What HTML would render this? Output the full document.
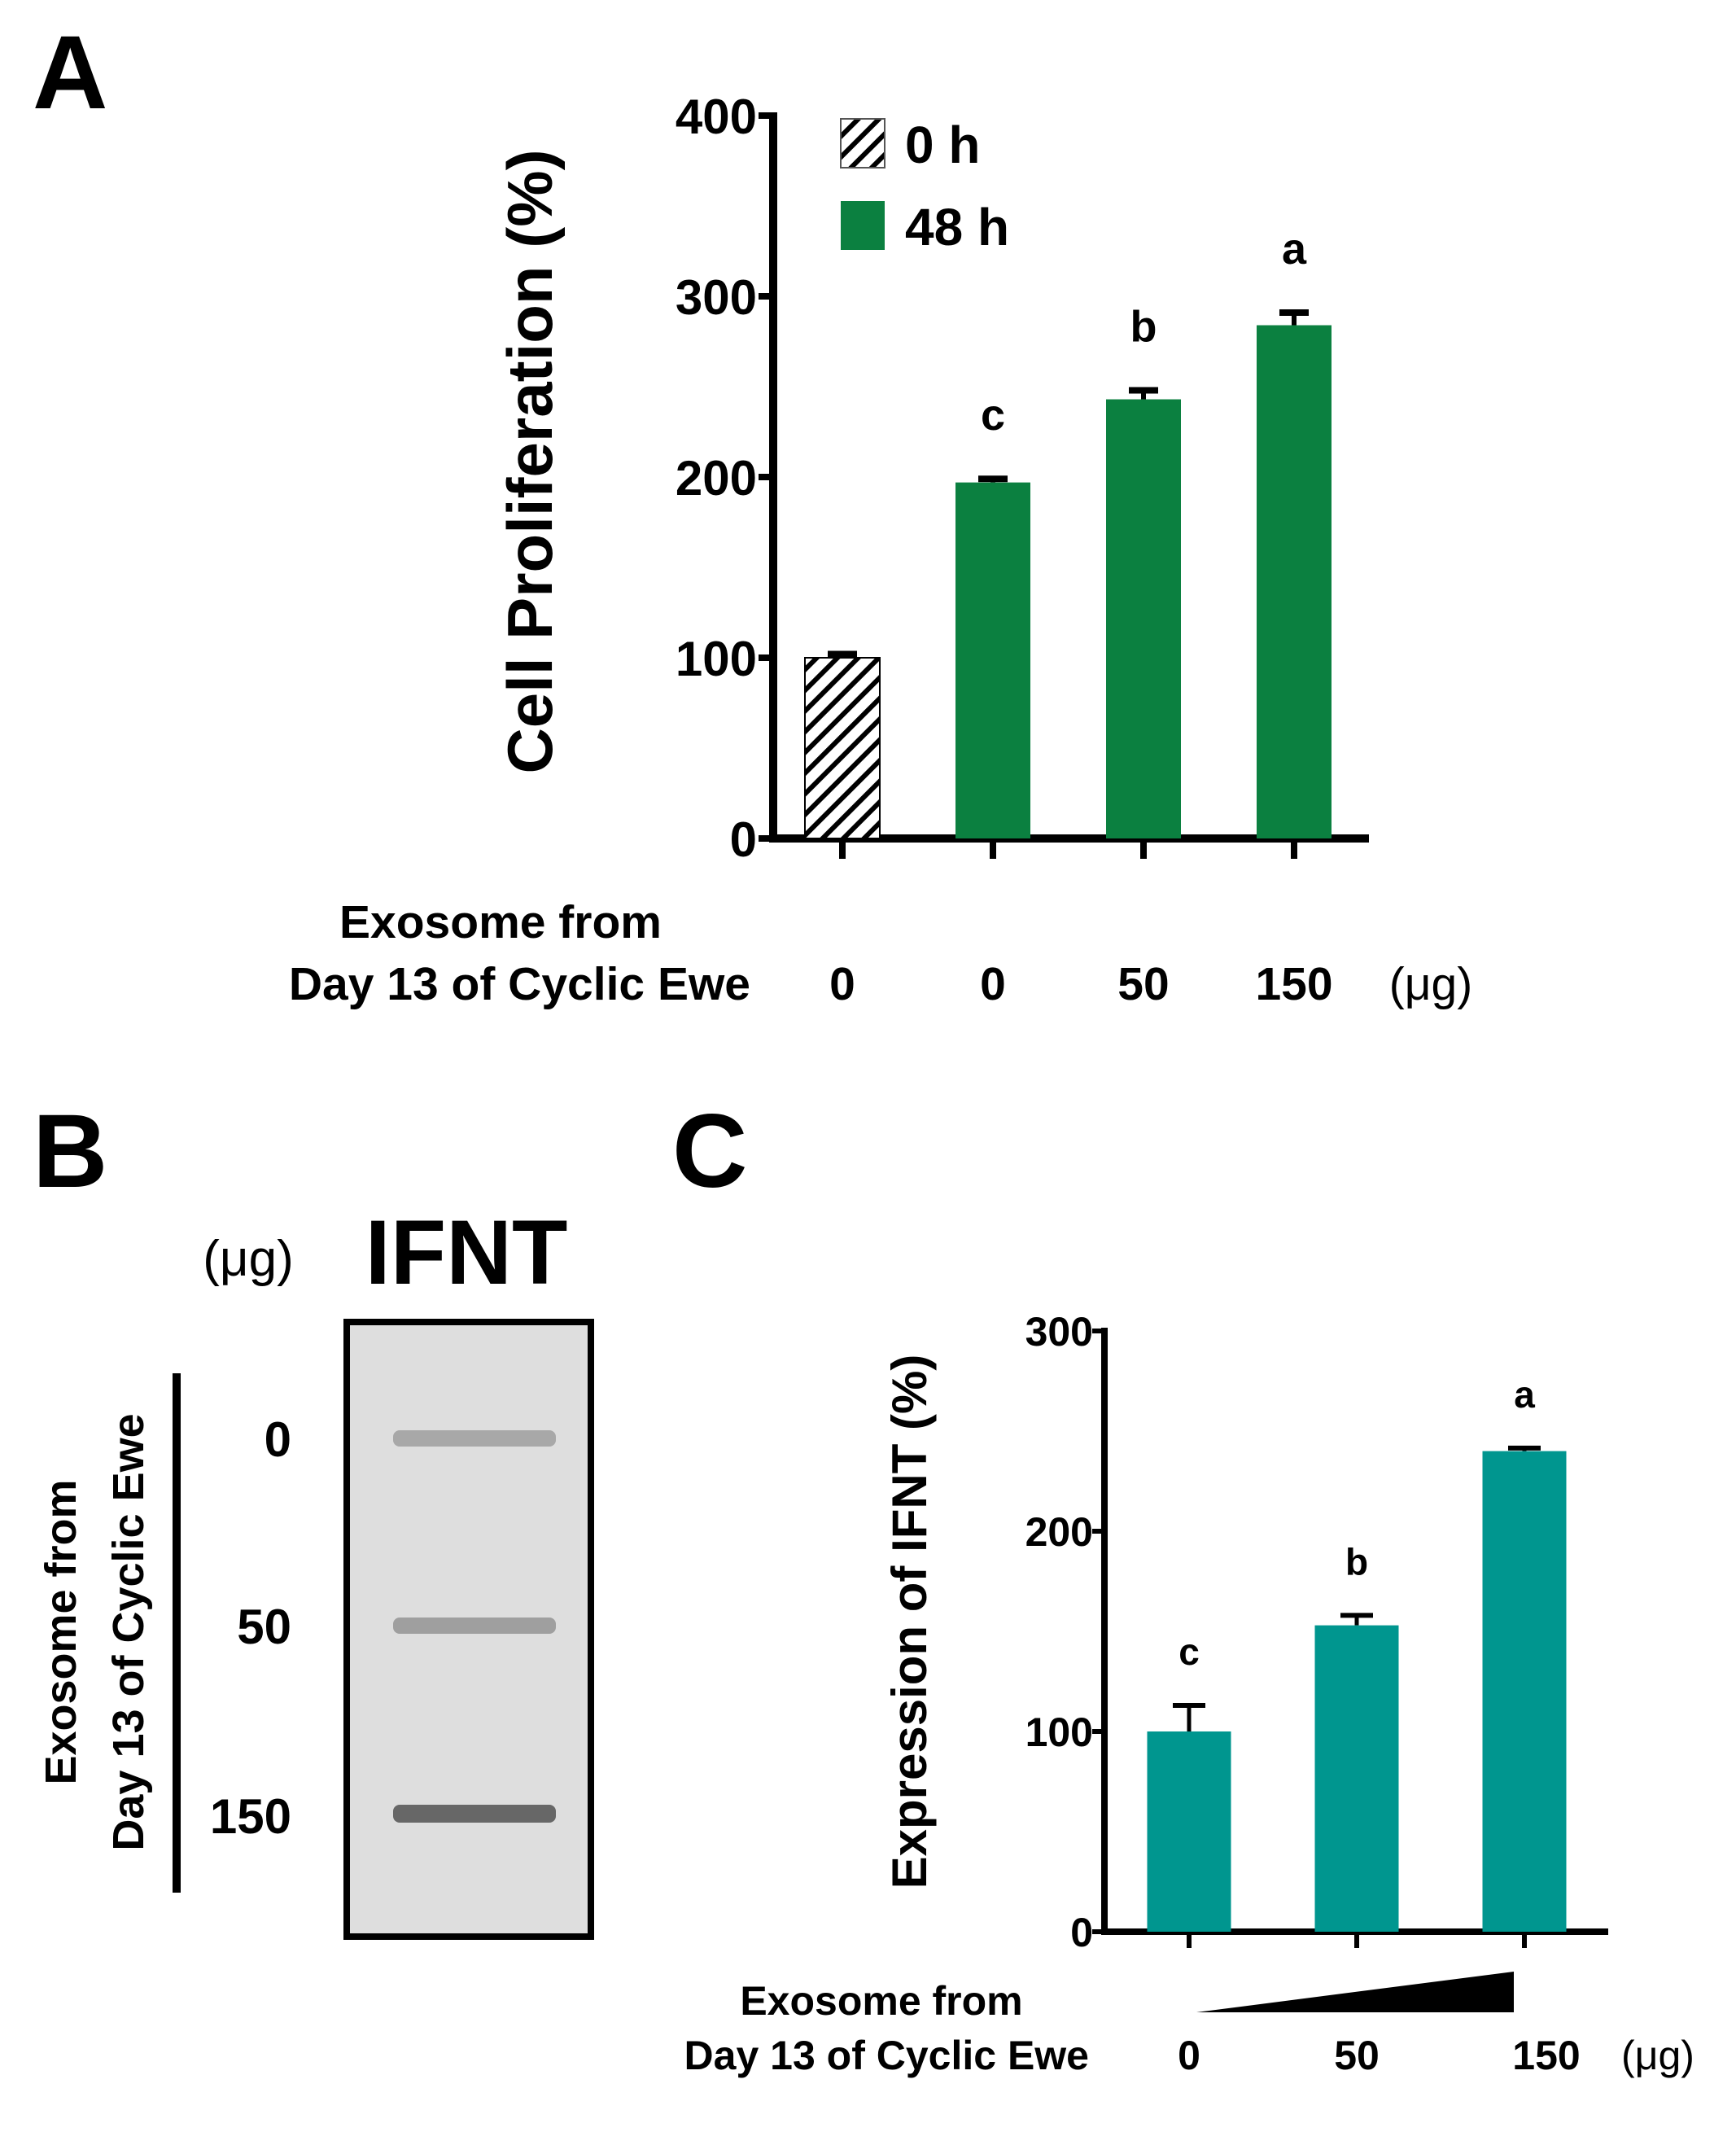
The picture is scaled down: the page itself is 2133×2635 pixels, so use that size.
<!DOCTYPE html>
<html><head><meta charset="utf-8"><style>
body{margin:0;background:#fff}
svg{display:block}
text{font-family:"Liberation Sans",sans-serif;font-weight:bold;fill:#000}
</style></head><body>
<svg id="fig" width="2133" height="2635" viewBox="0 0 2133 2635">
<defs>
<pattern id="hatch" patternUnits="userSpaceOnUse" width="18" height="18" patternTransform="rotate(45)">
<rect width="18" height="18" fill="#fff"/><rect x="0" y="0" width="6" height="18" fill="#000"/>
</pattern>
</defs>
<text x="40" y="133" font-size="128">A</text>
<g id="chartA"></g>
<text x="40" y="1458" font-size="128">B</text>
<text x="826" y="1458" font-size="128">C</text>
<g>
<text x="305" y="1567" font-size="62" text-anchor="middle" font-weight="normal" style="font-weight:normal">(μg)</text>
<text x="573" y="1577" font-size="112" text-anchor="middle">IFNT</text>
<rect x="426" y="1624" width="300" height="755" fill="#dedede" stroke="#000" stroke-width="8"/>
<rect x="483" y="1757" width="200" height="20" rx="8" fill="#9a9a9a" opacity="0.8"/>
<rect x="483" y="1987" width="200" height="20" rx="8" fill="#8e8e8e" opacity="0.8"/>
<rect x="483" y="2217" width="200" height="22" rx="8" fill="#5a5a5a" opacity="0.9"/>
<rect x="212" y="1687" width="10" height="638" fill="#000"/>
<text x="358" y="1789" font-size="60" text-anchor="end">0</text>
<text x="358" y="2019" font-size="60" text-anchor="end">50</text>
<text x="358" y="2252" font-size="60" text-anchor="end">150</text>
<text transform="translate(93,2005) rotate(-90)" font-size="54" text-anchor="middle">Exosome from</text>
<text transform="translate(176,2005) rotate(-90)" font-size="54" text-anchor="middle">Day 13 of Cyclic Ewe</text>
</g>
<g id="chartC"></g>
</svg>
<script>
const NS="http://www.w3.org/2000/svg";
// Chart A data
const catsA=["0","0","50","150"];
const valsA=[100,197,243,284];
const errA=[2,2,5,7];
const lettersA=["","c","b","a"];
const ticksA=[0,100,200,300,400];
// Chart C data
const catsC=["0","50","150"];
const valsC=[100,153,240];
const errC=[13,5,1.5];
const lettersC=["c","b","a"];
const ticksC=[0,100,200,300];

function el(tag,attrs,parent,txt){const e=document.createElementNS(NS,tag);for(const k in attrs)e.setAttribute(k,attrs[k]);if(txt!==undefined)e.textContent=txt;parent.appendChild(e);return e;}

// ---- Chart A ----
(function(){
const g=document.getElementById('chartA');
const x0=950,y0=1030,yTop=142,xEnd=1682,maxV=400;
const y=v=>y0-(v/maxV)*(y0-yTop);
const cx=i=>1035+i*185;
const bw=92;
let a=el('line',{x1:x0,y1:yTop-4,x2:x0,y2:y0+5,stroke:'#000','stroke-width':10},g);

a=el('line',{x1:x0-5,y1:y0,x2:xEnd,y2:y0,stroke:'#000','stroke-width':10},g);

ticksA.forEach(t=>{
 let l=el('line',{x1:x0-18,y1:y(t),x2:x0,y2:y(t),stroke:'#000','stroke-width':8},g);
 
 let tx=el('text',{x:x0-20,y:y(t)+22,'font-size':60,'text-anchor':'end'},g,String(t));
 
});
valsA.forEach((v,i)=>{
 const c=cx(i);
 let tk=el('line',{x1:c,y1:y0,x2:c,y2:y0+25,stroke:'#000','stroke-width':8},g);
 
 let eb=el('line',{x1:c,y1:y(v),x2:c,y2:y(v+errA[i]),stroke:'#000','stroke-width':6},g);
 
 let cap=el('line',{x1:c-18,y1:y(v+errA[i]),x2:c+18,y2:y(v+errA[i]),stroke:'#000','stroke-width':8},g);
 
 let b=el('rect',{x:c-bw/2,y:y(v),width:bw,height:y0-y(v),fill:i===0?'url(#hatch)':'#0b8040',stroke:i===0?'#000':'none','stroke-width':2},g);
 
 if(lettersA[i]){let lt=el('text',{x:c,y:y(v+errA[i])-60,'font-size':54,'text-anchor':'middle'},g,lettersA[i]);
 }
 let xl=el('text',{x:c,y:1228,'font-size':57,'text-anchor':'middle'},g,catsA[i]);
 
});
let u=el('text',{x:1758,y:1228,'font-size':57,'text-anchor':'middle',style:'font-weight:normal'},g,'(μg)');

let t1=el('text',{x:615,y:1152,'font-size':57,'text-anchor':'middle'},g,'Exosome from');

let t2=el('text',{x:922,y:1228,'font-size':57,'text-anchor':'end'},g,'Day 13 of Cyclic Ewe');

let yt=el('text',{transform:'translate(678,567) rotate(-90)','font-size':78,'text-anchor':'middle'},g,'Cell Proliferation (%)');

let lb=el('rect',{x:1033,y:146,width:54,height:60,fill:'url(#hatch)',stroke:'#555','stroke-width':2},g);

let lt1=el('text',{x:1112,y:200,'font-size':64},g,'0 h');

let lg=el('rect',{x:1033,y:247,width:54,height:60,fill:'#0b8040'},g);

let lt2=el('text',{x:1112,y:301,'font-size':64},g,'48 h');

})();

// ---- Chart C ----
(function(){
const g=document.getElementById('chartC');
const x0=1357,y0=2373,yTop=1635,xEnd=1976,maxV=300;
const y=v=>y0-(v/maxV)*(y0-yTop);
const cx=i=>1461+i*206;
const bw=103;
let a=el('line',{x1:x0,y1:yTop-4,x2:x0,y2:y0+4,stroke:'#000','stroke-width':8},g);

a=el('line',{x1:x0-4,y1:y0,x2:xEnd,y2:y0,stroke:'#000','stroke-width':8},g);

ticksC.forEach(t=>{
 let l=el('line',{x1:x0-15,y1:y(t),x2:x0,y2:y(t),stroke:'#000','stroke-width':6},g);
 
 let tx=el('text',{x:x0-14,y:y(t)+18,'font-size':50,'text-anchor':'end'},g,String(t));
 
});
valsC.forEach((v,i)=>{
 const c=cx(i);
 let tk=el('line',{x1:c,y1:y0,x2:c,y2:y0+20,stroke:'#000','stroke-width':6},g);
 
 let eb=el('line',{x1:c,y1:y(v),x2:c,y2:y(v+errC[i]),stroke:'#000','stroke-width':5},g);
 
 let cap=el('line',{x1:c-20,y1:y(v+errC[i]),x2:c+20,y2:y(v+errC[i]),stroke:'#000','stroke-width':6},g);
 
 let b=el('rect',{x:c-bw/2,y:y(v),width:bw,height:y0-y(v),fill:'#00968f'},g);
 
 let lt=el('text',{x:c,y:y(v+errC[i])-50,'font-size':46,'text-anchor':'middle'},g,lettersC[i]);
 
 let xl=el('text',{x:c+(i===2?27:0),y:2542,'font-size':50,'text-anchor':'middle'},g,catsC[i]);
 
});
let tri=el('polygon',{points:'1470,2472 1860,2422 1860,2472',fill:'#000'},g);

let u=el('text',{x:2037,y:2542,'font-size':50,'text-anchor':'middle',style:'font-weight:normal'},g,'(μg)');

let t1=el('text',{x:1083,y:2475,'font-size':50,'text-anchor':'middle'},g,'Exosome from');

let t2=el('text',{x:1338,y:2542,'font-size':50,'text-anchor':'end'},g,'Day 13 of Cyclic Ewe');

let yt=el('text',{transform:'translate(1138,1992) rotate(-90)','font-size':60,'text-anchor':'middle'},g,'Expression of IFNT (%)');

})();
</script>
</body></html>
